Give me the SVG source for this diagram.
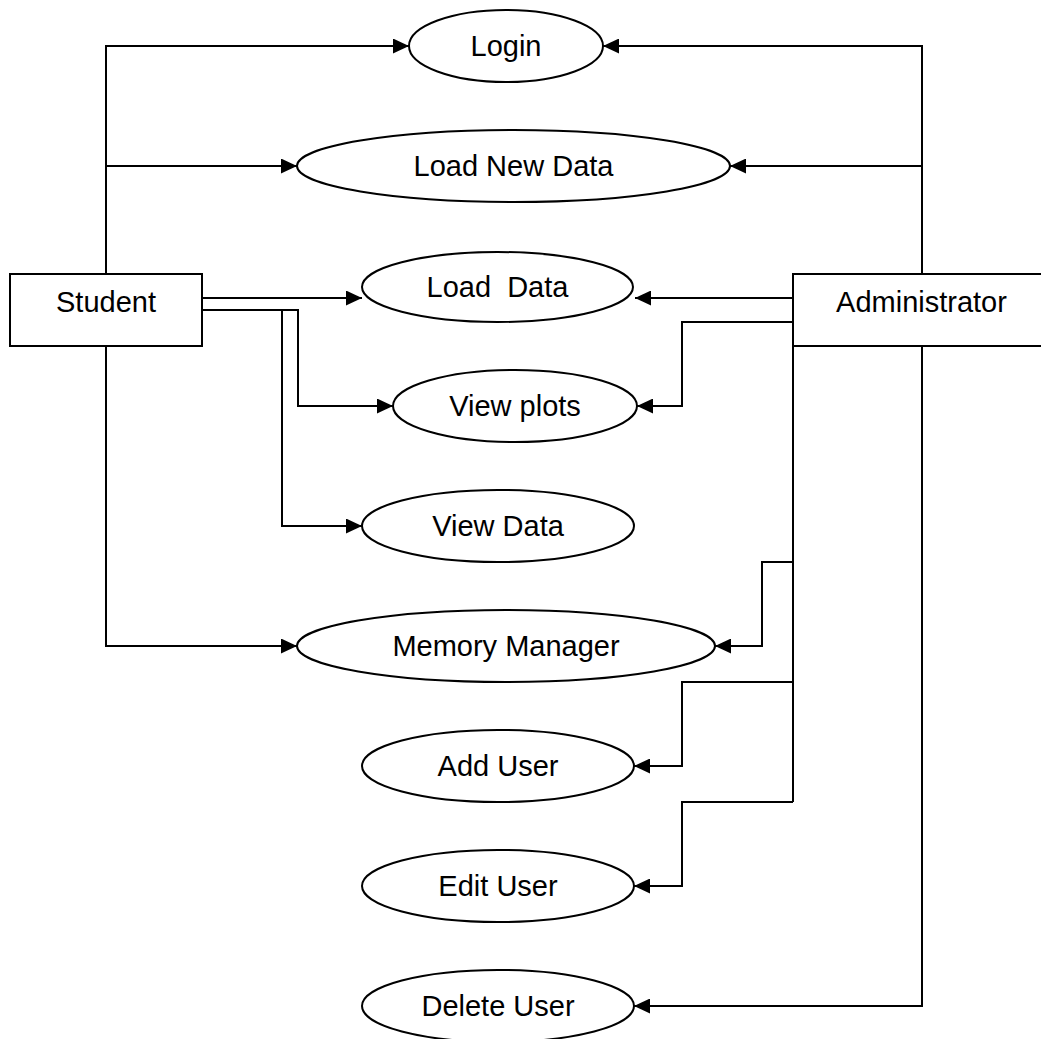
<svg xmlns="http://www.w3.org/2000/svg" width="1041" height="1039" viewBox="0 0 1041 1039">
<style>
  .shape { fill: #ffffff; stroke: #000000; stroke-width: 2; }
  .lbl { font-family: "Liberation Sans", Arial, sans-serif; font-size: 29px; fill: #000000; text-anchor: middle; white-space: pre; }
  .conn { fill: none; stroke: #000000; stroke-width: 2; }
  .arr { marker-end: url(#ah); }
</style>
<defs>
  <marker id="ah" markerUnits="userSpaceOnUse" markerWidth="16" markerHeight="15" refX="16" refY="7.5" orient="auto">
    <path d="M0,0 L16,7.5 L0,15 z" fill="#000000"/>
  </marker>
</defs>
<rect width="1041" height="1039" fill="#ffffff"/>
<g id="connectors">
  <polyline class="conn arr" points="106,274 106,46 409,46"/>
  <polyline class="conn arr" points="106,166 297,166"/>
  <polyline class="conn arr" points="202,298 362,298"/>
  <polyline class="conn arr" points="202,310 298,310 298,406 393,406"/>
  <polyline class="conn arr" points="282,310 282,526 362,526"/>
  <polyline class="conn arr" points="106,346 106,646 297,646"/>
  <polyline class="conn arr" points="922,274 922,46 603,46"/>
  <polyline class="conn arr" points="922,166 730,166"/>
  <polyline class="conn arr" points="793,298 635,298"/>
  <polyline class="conn arr" points="793,322 682,322 682,406 637,406"/>
  <polyline class="conn" points="793,346 793,802"/>
  <polyline class="conn arr" points="793,562 762,562 762,646 715,646"/>
  <polyline class="conn arr" points="793,682 682,682 682,766 634,766"/>
  <polyline class="conn arr" points="793,802 682,802 682,886 634,886"/>
  <polyline class="conn arr" points="922,346 922,1006 634,1006"/>
</g>
<g id="student">
  <rect class="shape" x="10" y="274" width="192" height="72"/>
  <text class="lbl" x="106" y="312">Student</text>
</g>
<g id="administrator">
  <rect class="shape" x="793" y="274" width="256" height="72"/>
  <text class="lbl" x="921.5" y="312">Administrator</text>
</g>
<g id="login">
  <ellipse class="shape" cx="506" cy="46" rx="97" ry="36"/>
  <text class="lbl" x="506" y="55.5">Login</text>
</g>
<g id="load-new-data">
  <ellipse class="shape" cx="513.5" cy="166" rx="216.5" ry="36"/>
  <text class="lbl" x="513.5" y="175.5">Load New Data</text>
</g>
<g id="load-data">
  <ellipse class="shape" cx="497.5" cy="287" rx="135.5" ry="35"/>
  <text class="lbl" x="497.5" y="296.5">Load  Data</text>
</g>
<g id="view-plots">
  <ellipse class="shape" cx="515" cy="406" rx="122" ry="36"/>
  <text class="lbl" x="515" y="415.5">View plots</text>
</g>
<g id="view-data">
  <ellipse class="shape" cx="498" cy="526" rx="136" ry="36"/>
  <text class="lbl" x="498" y="535.5">View Data</text>
</g>
<g id="memory-manager">
  <ellipse class="shape" cx="506" cy="646" rx="209" ry="36"/>
  <text class="lbl" x="506" y="655.5">Memory Manager</text>
</g>
<g id="add-user">
  <ellipse class="shape" cx="498" cy="766" rx="136" ry="36"/>
  <text class="lbl" x="498" y="775.5">Add User</text>
</g>
<g id="edit-user">
  <ellipse class="shape" cx="498" cy="886" rx="136" ry="36"/>
  <text class="lbl" x="498" y="895.5">Edit User</text>
</g>
<g id="delete-user">
  <ellipse class="shape" cx="498" cy="1006" rx="136" ry="36"/>
  <text class="lbl" x="498" y="1015.5">Delete User</text>
</g>
</svg>
